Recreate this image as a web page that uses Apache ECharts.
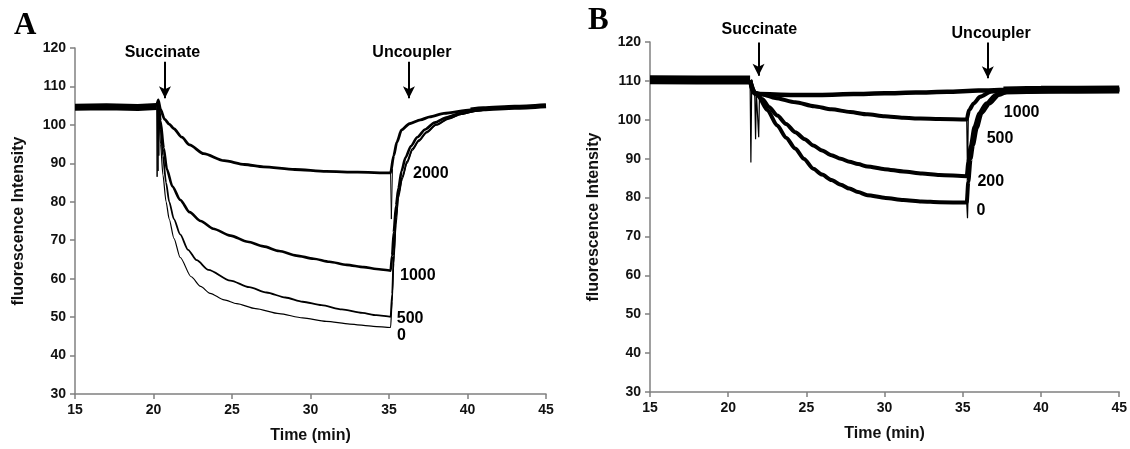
<!DOCTYPE html>
<html>
<head>
<meta charset="utf-8">
<script src="https://cdn.jsdelivr.net/npm/echarts@6/dist/echarts.min.js"></script>
<style>
  html, body { margin: 0; padding: 0; background: #fff; }
  #demo { width: 1130px; height: 449px; }
</style>
</head>
<body>
<div id="demo"></div>
<script>
// 数据：时间(min) 和荧光强度，按图上读出来的
// 面板 A
var baseA = [[15, 104.6], [17, 104.7], [19, 104.5], [20.2, 104.8]];
var tailA = [[40.2, 103.9], [41, 104.2], [43, 104.6], [45, 105]];
var a2000 = [[20.2, 104.8], [20.3, 106.5], [20.45, 104], [20.7, 101.5], [21.0, 100.2], [21.3, 99], [21.8, 96.8], [22.3, 94.8], [23.2, 92.5], [24.5, 90.7], [25.8, 89.7], [27, 89.1], [29, 88.4], [31, 87.9], [33, 87.7], [35.1, 87.5], [35.3, 92], [35.5, 95.5], [35.8, 98.7], [36.3, 100.3], [37, 101.3], [37.6, 102.1], [38.5, 103], [40.2, 103.9], [42, 104.5], [45, 105]];
var a1000 = [[20.2, 104.8], [20.3, 106], [20.45, 101], [20.65, 94], [20.85, 88.5], [21.2, 84], [21.7, 80.5], [22.3, 77.3], [23, 75], [23.8, 73], [24.9, 71.2], [26, 69.6], [27, 68.4], [28, 67.2], [29.1, 66], [30.2, 65.2], [31.2, 64.4], [32.3, 63.6], [33.4, 63], [34.2, 62.5], [35.1, 62.1], [35.2, 66], [35.3, 72], [35.45, 79], [35.6, 83.5], [35.8, 88], [36.05, 91.5], [36.4, 94.5], [36.8, 96.8], [37.3, 98.8], [37.9, 100.6], [38.7, 102], [39.5, 103], [40.5, 103.8], [42, 104.4], [45, 105]];
var a500 = [[20.2, 104.8], [20.3, 106], [20.45, 99], [20.6, 92], [20.8, 85], [21.0, 80], [21.3, 75.5], [21.7, 71.5], [22.2, 67.5], [22.75, 64.8], [23.5, 62.3], [24.9, 59.5], [26.1, 57.8], [27.2, 56.4], [28.4, 55.1], [29.5, 54], [30.7, 53.1], [32, 52], [33.3, 51.1], [34.2, 50.5], [35.1, 50.1], [35.2, 56], [35.3, 66], [35.45, 76], [35.6, 82], [35.85, 86.5], [36.15, 90.5], [36.5, 93.8], [36.9, 96], [37.4, 98.2], [38, 100.1], [38.8, 101.7], [39.6, 102.8], [40.6, 103.7], [42, 104.3], [45, 105]];
var a0 = [[20.2, 104.8], [20.3, 106], [20.45, 95], [20.6, 87], [20.8, 80], [21.0, 75.5], [21.3, 70.5], [21.7, 65.5], [22.4, 60.5], [23, 58], [23.6, 56.2], [24.5, 54.5], [25.3, 53.5], [26.5, 52.2], [28, 50.9], [29.5, 49.8], [31, 48.9], [32.5, 48.2], [34, 47.6], [35.1, 47.3], [35.2, 54], [35.3, 64], [35.45, 74], [35.6, 81], [35.85, 86], [36.15, 90], [36.5, 93.4], [36.9, 95.7], [37.4, 97.9], [38, 99.9], [38.8, 101.5], [39.6, 102.7], [40.6, 103.6], [42, 104.3], [45, 105]];
var spikeA1 = [[20.2, 104.8], [20.23, 86.5], [20.26, 105], [20.29, 88], [20.31, 105.5], [20.34, 92], [20.37, 104]];
var spikeA2 = [[35.1, 87.5], [35.15, 75.5], [35.22, 88.5]];
var labelsA = [[36.53, 87.4, '2000'], [35.7, 60.9, '1000'], [35.49, 49.7, '500'], [35.5, 45.3, '0']];
// 名称, 文字x, 文字y, 箭头x, 箭头起点y, 箭头终点y
var notesA = [['Succinate', 20.57, 118.8, 20.73, 116.4, 106.9], ['Uncoupler', 36.46, 118.8, 36.27, 116.4, 106.9]];

// 面板 B
var baseB = [[15, 110.3], [18, 110.2], [21.4, 110.2]];
var tailB = [[37.6, 107.5], [40, 107.7], [45, 107.8]];
var b1000 = [[21.4, 110.2], [21.6, 107], [22, 106.6], [24, 106.4], [26, 106.4], [28, 106.6], [30, 106.8], [32, 107], [34, 107.2], [36, 107.5], [38, 107.7], [45, 107.8]];
var b500 = [[21.4, 110.2], [21.6, 107], [22.2, 106.5], [23, 105.6], [24.3, 104.5], [25.5, 103.5], [26.6, 102.7], [27.8, 102], [28.9, 101.4], [30, 100.9], [31.2, 100.5], [32.3, 100.3], [33.5, 100.2], [35.25, 100.1], [35.4, 102.5], [35.7, 104.2], [36.1, 105.9], [36.8, 107.2], [37.5, 107.6], [45, 107.8]];
var b200 = [[21.4, 110.2], [21.7, 107], [22.2, 105.3], [22.6, 103.3], [23.14, 101.1], [23.7, 98.9], [24.29, 96.8], [24.9, 95], [25.44, 93.4], [26, 92.1], [26.6, 90.9], [27.2, 90], [27.75, 89.2], [28.3, 88.6], [28.9, 88], [30, 87.3], [31.2, 86.7], [32.4, 86.2], [33.5, 85.8], [35.25, 85.5], [35.35, 89], [35.5, 93.1], [35.75, 98.2], [36.05, 101.7], [36.5, 104.2], [37.1, 106.4], [37.7, 107.2], [45, 107.8]];
var b0 = [[21.4, 110.2], [21.7, 107], [21.9, 106.2], [22.5, 102.5], [23.14, 98.5], [23.7, 95.4], [24.29, 92.6], [24.85, 89.9], [25.44, 87.4], [26, 85.9], [26.6, 84.5], [27.2, 83.3], [27.75, 82.3], [28.3, 81.4], [28.9, 80.6], [30.06, 79.9], [31.2, 79.4], [32.36, 79], [33.5, 78.8], [35.25, 78.7], [35.35, 84], [35.5, 90], [35.65, 93.5], [35.9, 98], [36.2, 101.7], [36.7, 104.2], [37.3, 106.4], [37.9, 107.3], [45, 107.8]];
var spikeB1 = [[21.4, 110.2], [21.45, 89], [21.5, 108], [21.7, 106], [21.75, 95], [21.8, 107], [21.95, 95.5], [22.0, 106.5]];
var spikeB2 = [[35.25, 100.1], [35.3, 86], [35.35, 100.5]];
var spikeB3 = [[35.25, 78.7], [35.3, 74.7], [35.35, 82]];
var labelsB = [[37.62, 101.8, '1000'], [36.52, 95.2, '500'], [35.93, 84.1, '200'], [35.88, 76.6, '0']];
var notesB = [['Succinate', 21.99, 123.3, 21.94, 119.9, 111.3], ['Uncoupler', 36.81, 122.1, 36.6, 119.9, 110.7]];

var FONT = 'Liberation Sans, Arial, sans-serif';
var AXIS_GRAY = '#808080';

function makeX(idx) {
    return {
        gridIndex: idx, type: 'value', min: 15, max: 45, interval: 5,
        axisLine: { show: true, onZero: false, lineStyle: { color: AXIS_GRAY, width: 1.5 } },
        axisTick: { show: true, length: 5, lineStyle: { color: AXIS_GRAY, width: 1.5 } },
        splitLine: { show: false },
        axisLabel: { color: '#111', fontSize: 14, fontWeight: 'bold', fontFamily: FONT, margin: 9 },
        name: 'Time (min)', nameLocation: 'middle', nameGap: 34,
        nameTextStyle: { color: '#111', fontSize: 16, fontWeight: 'bold', fontFamily: FONT }
    };
}
function makeY(idx) {
    return {
        gridIndex: idx, type: 'value', min: 30, max: 120, interval: 10,
        axisLine: { show: true, onZero: false, lineStyle: { color: AXIS_GRAY, width: 1.5 } },
        axisTick: { show: true, length: 5, lineStyle: { color: AXIS_GRAY, width: 1.5 } },
        splitLine: { show: false },
        axisLabel: { color: '#111', fontSize: 14, fontWeight: 'bold', fontFamily: FONT, margin: 9 },
        name: 'fluorescence Intensity', nameLocation: 'middle', nameGap: 48, nameRotate: 90,
        nameTextStyle: { color: '#111', fontSize: 16, fontWeight: 'bold', fontFamily: FONT }
    };
}
// 一条曲线
function trace(idx, data, width, smooth) {
    return {
        type: 'line', xAxisIndex: idx, yAxisIndex: idx, data: data,
        showSymbol: false, smooth: smooth === false ? false : 0.25, smoothMonotone: 'x', silent: true,
        lineStyle: { color: '#000', width: width }
    };
}
// 曲线旁边的浓度标签 + 箭头
function labelSeries(idx, labels, notes) {
    var lines = [];
    for (var i = 0; i < notes.length; i++) {
        var n = notes[i];
        lines.push([{ coord: [n[3], n[4]] }, { coord: [n[3], n[5]] }]);
    }
    return {
        type: 'scatter', xAxisIndex: idx, yAxisIndex: idx, data: labels,
        symbolSize: 0.1, itemStyle: { color: 'rgba(0,0,0,0)', opacity: 1 }, silent: true,
        label: {
            show: true, position: 'right', distance: 0, color: '#000',
            fontSize: 16, fontWeight: 'bold', fontFamily: FONT,
            formatter: function (p) { return p.value[2]; }
        },
        markLine: {
            silent: true, symbol: ['none', 'arrow'], symbolSize: [9, 12],
            lineStyle: { color: '#000', width: 2, type: 'solid' },
            label: { show: false },
            data: lines
        }
    };
}

var chartDom = document.getElementById('demo');
var myChart = echarts.init(chartDom, null, { renderer: 'canvas' });
var option;
option = {
    animation: false,
    backgroundColor: '#fff',
    title: [
        { text: 'A', left: 9, top: 5, textStyle: { fontSize: 31, fontWeight: 'bold', fontFamily: 'Liberation Serif, serif', color: '#000' } },
        { text: 'B', left: 583, top: 0, textStyle: { fontSize: 31, fontWeight: 'bold', fontFamily: 'Liberation Serif, serif', color: '#000' } }
    ],
    grid: [
        { left: 75, right: 584, top: 48, bottom: 55 },
        { left: 650, right: 7, top: 42, bottom: 57 }
    ],
    xAxis: [makeX(0), makeX(1)],
    yAxis: [makeY(0), makeY(1)],
    series: [
        trace(0, baseA, 7, false),
        trace(0, tailA, 5),
        trace(0, a2000, 2.8),
        trace(0, a1000, 2.6),
        trace(0, a500, 1.8),
        trace(0, a0, 1.2),
        trace(0, spikeA1, 1, false),
        trace(0, spikeA2, 1, false),
        labelSeries(0, labelsA, notesA),
        trace(1, baseB, 9, false),
        trace(1, tailB, 8),
        trace(1, b1000, 4.5),
        trace(1, b500, 4),
        trace(1, b200, 4),
        trace(1, b0, 4),
        trace(1, spikeB1, 1.2, false),
        trace(1, spikeB2, 1.2, false),
        trace(1, spikeB3, 1.2, false),
        labelSeries(1, labelsB, notesB)
    ]
};
option && myChart.setOption(option);

// Succinate / Uncoupler 文字放在图外面，用坐标换算成像素
var texts = [];
var allNotes = [[0, notesA], [1, notesB]];
for (var k = 0; k < allNotes.length; k++) {
    var gi = allNotes[k][0];
    var list = allNotes[k][1];
    for (var j = 0; j < list.length; j++) {
        var pt = myChart.convertToPixel({ gridIndex: gi }, [list[j][1], list[j][2]]);
        texts.push({
            type: 'text', x: pt[0], y: pt[1], silent: true,
            style: { text: list[j][0], fill: '#000', font: 'bold 16px ' + FONT, align: 'center', verticalAlign: 'middle' }
        });
    }
}
myChart.setOption({ graphic: texts });
</script>
</body>
</html>
